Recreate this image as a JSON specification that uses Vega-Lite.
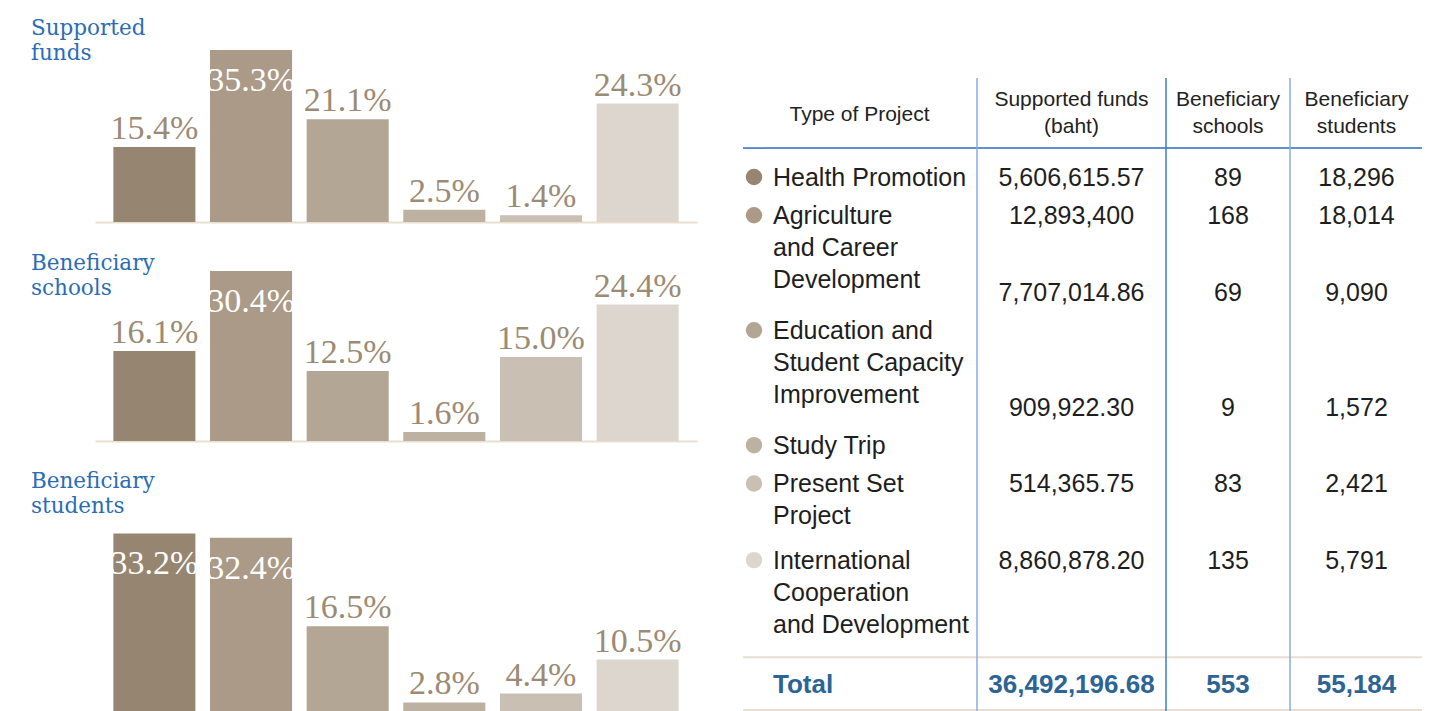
{
  "$schema": "https://vega.github.io/schema/vega-lite/v6.json",
  "background": "white",
  "padding": {"left": 31, "top": 17, "right": 14, "bottom": 0},
  "config": {"view": {"stroke": null}},
  "datasets": {
    "projects": [
      {"project": "Health Promotion", "label": "Health Promotion", "line": 0, "valueLine": 0, "funds": "5,606,615.57", "schools": "89", "students": "18,296", "shareFunds": 0.154, "shareSchools": 0.161, "shareStudents": 0.332},
      {"project": "Agriculture and Career Development", "label": "Agriculture\nand Career\nDevelopment", "line": 1, "valueLine": 1, "funds": "12,893,400", "schools": "168", "students": "18,014", "shareFunds": 0.353, "shareSchools": 0.304, "shareStudents": 0.324},
      {"project": "Education and Student Capacity Improvement", "label": "Education and\nStudent Capacity\nImprovement", "line": 4, "valueLine": 3, "funds": "7,707,014.86", "schools": "69", "students": "9,090", "shareFunds": 0.211, "shareSchools": 0.125, "shareStudents": 0.165},
      {"project": "Study Trip", "label": "Study Trip", "line": 7, "valueLine": 6, "funds": "909,922.30", "schools": "9", "students": "1,572", "shareFunds": 0.025, "shareSchools": 0.016, "shareStudents": 0.028},
      {"project": "Present Set Project", "label": "Present Set\nProject", "line": 8, "valueLine": 8, "funds": "514,365.75", "schools": "83", "students": "2,421", "shareFunds": 0.014, "shareSchools": 0.150, "shareStudents": 0.044},
      {"project": "International Cooperation and Development", "label": "International\nCooperation\nand Development", "line": 10, "valueLine": 10, "funds": "8,860,878.20", "schools": "135", "students": "5,791", "shareFunds": 0.243, "shareSchools": 0.244, "shareStudents": 0.105}
    ],
    "total": [
      {"label": "Total", "line": 13, "funds": "36,492,196.68", "schools": "553", "students": "55,184"}
    ]
  },
  "hconcat": [
    {
      "vconcat": [
        {
          "width": 602, "height": 172,
          "title": {"text": ["Supported", "funds"], "anchor": "start", "frame": "group", "dx": -64, "offset": -14, "lineHeight": 25, "font": "DejaVu Serif", "fontSize": 21.5, "fontWeight": "normal", "color": "#2b6cb5"},
          "data": {"name": "projects"},
          "encoding": {
            "x": {"field": "project", "type": "nominal", "axis": {"domain": true, "domainColor": "#eadfcf", "domainWidth": 2, "ticks": false, "labels": false, "title": null, "grid": false}, "scale": {"domain": ["Health Promotion", "Agriculture and Career Development", "Education and Student Capacity Improvement", "Study Trip", "Present Set Project", "International Cooperation and Development"], "paddingInner": 0.151, "paddingOuter": 0.19}},
            "y": {"field": "shareFunds", "type": "quantitative", "axis": null, "scale": {"nice": false}}
          },
          "layer": [
            {"mark": {"type": "bar"}, "encoding": {"color": {"field": "project", "type": "nominal", "legend": null, "scale": {"domain": ["Health Promotion", "Agriculture and Career Development", "Education and Student Capacity Improvement", "Study Trip", "Present Set Project", "International Cooperation and Development"], "range": ["#968570", "#aa9a87", "#b3a694", "#bdb2a2", "#c9bfb3", "#ddd6cf"]}}}},
            {"transform": [{"filter": "datum.shareFunds <= 0.3"}], "mark": {"type": "text", "font": "Liberation Serif", "fontSize": 34, "color": "#9c8b74", "baseline": "alphabetic", "dy": -8}, "encoding": {"text": {"field": "shareFunds", "format": ".1%"}}},
            {"transform": [{"filter": "datum.shareFunds > 0.3"}], "mark": {"type": "text", "font": "Liberation Serif", "fontSize": 34, "color": "#ffffff", "baseline": "alphabetic", "dy": 41}, "encoding": {"text": {"field": "shareFunds", "format": ".1%"}}}
          ]
        },
        {
          "width": 602, "height": 170,
          "title": {"text": ["Beneficiary", "schools"], "anchor": "start", "frame": "group", "dx": -64, "offset": -30, "lineHeight": 25, "font": "DejaVu Serif", "fontSize": 21.5, "fontWeight": "normal", "color": "#2b6cb5"},
          "data": {"name": "projects"},
          "encoding": {
            "x": {"field": "project", "type": "nominal", "axis": {"domain": true, "domainColor": "#eadfcf", "domainWidth": 2, "ticks": false, "labels": false, "title": null, "grid": false}, "scale": {"domain": ["Health Promotion", "Agriculture and Career Development", "Education and Student Capacity Improvement", "Study Trip", "Present Set Project", "International Cooperation and Development"], "paddingInner": 0.151, "paddingOuter": 0.19}},
            "y": {"field": "shareSchools", "type": "quantitative", "axis": null, "scale": {"nice": false}}
          },
          "layer": [
            {"mark": {"type": "bar"}, "encoding": {"color": {"field": "project", "type": "nominal", "legend": null, "scale": {"domain": ["Health Promotion", "Agriculture and Career Development", "Education and Student Capacity Improvement", "Study Trip", "Present Set Project", "International Cooperation and Development"], "range": ["#968570", "#aa9a87", "#b3a694", "#bdb2a2", "#c9bfb3", "#ddd6cf"]}}}},
            {"transform": [{"filter": "datum.shareSchools <= 0.3"}], "mark": {"type": "text", "font": "Liberation Serif", "fontSize": 34, "color": "#9c8b74", "baseline": "alphabetic", "dy": -8}, "encoding": {"text": {"field": "shareSchools", "format": ".1%"}}},
            {"transform": [{"filter": "datum.shareSchools > 0.3"}], "mark": {"type": "text", "font": "Liberation Serif", "fontSize": 34, "color": "#ffffff", "baseline": "alphabetic", "dy": 41}, "encoding": {"text": {"field": "shareSchools", "format": ".1%"}}}
          ]
        },
        {
          "width": 602, "height": 228,
          "title": {"text": ["Beneficiary", "students"], "anchor": "start", "frame": "group", "dx": -64, "offset": -27, "lineHeight": 25, "font": "DejaVu Serif", "fontSize": 21.5, "fontWeight": "normal", "color": "#2b6cb5"},
          "data": {"name": "projects"},
          "encoding": {
            "x": {"field": "project", "type": "nominal", "axis": {"domain": true, "domainColor": "#eadfcf", "domainWidth": 2, "ticks": false, "labels": false, "title": null, "grid": false}, "scale": {"domain": ["Health Promotion", "Agriculture and Career Development", "Education and Student Capacity Improvement", "Study Trip", "Present Set Project", "International Cooperation and Development"], "paddingInner": 0.151, "paddingOuter": 0.19}},
            "y": {"field": "shareStudents", "type": "quantitative", "axis": null, "scale": {"domain": [0, 0.41], "nice": false}}
          },
          "layer": [
            {"mark": {"type": "bar"}, "encoding": {"color": {"field": "project", "type": "nominal", "legend": null, "scale": {"domain": ["Health Promotion", "Agriculture and Career Development", "Education and Student Capacity Improvement", "Study Trip", "Present Set Project", "International Cooperation and Development"], "range": ["#968570", "#aa9a87", "#b3a694", "#bdb2a2", "#c9bfb3", "#ddd6cf"]}}}},
            {"transform": [{"filter": "datum.shareStudents <= 0.3"}], "mark": {"type": "text", "font": "Liberation Serif", "fontSize": 34, "color": "#9c8b74", "baseline": "alphabetic", "dy": -8}, "encoding": {"text": {"field": "shareStudents", "format": ".1%"}}},
            {"transform": [{"filter": "datum.shareStudents > 0.3"}], "mark": {"type": "text", "font": "Liberation Serif", "fontSize": 34, "color": "#ffffff", "baseline": "alphabetic", "dy": 41}, "encoding": {"text": {"field": "shareStudents", "format": ".1%"}}}
          ]
        }
      ],
      "spacing": 49,
      "bounds": "flush"
    },
    {
      "hconcat": [
        {
          "width": 22, "height": 662,
          "layer": [
            {"data": {"values": [{}]}, "mark": {"type": "rule", "color": "#2a6cc0", "strokeWidth": 1.5}, "encoding": {"y": {"datum": -0.99, "type": "quantitative", "axis": null, "scale": {"domain": [-3.55, 13.73], "reverse": true, "nice": false, "zero": false}}}},
            {"data": {"values": [{}]}, "mark": {"type": "rule", "color": "#e7ded2", "strokeWidth": 2}, "encoding": {"y": {"datum": 12.3, "type": "quantitative"}}},
            {"data": {"values": [{}]}, "mark": {"type": "rule", "color": "#e7ded2", "strokeWidth": 2}, "encoding": {"y": {"datum": 13.68, "type": "quantitative"}}},
            {"data": {"name": "projects"}, "mark": {"type": "point", "filled": true, "size": 270, "opacity": 1, "yOffset": -9}, "encoding": {"y": {"field": "line", "type": "quantitative"}, "color": {"field": "project", "type": "nominal", "legend": null, "scale": {"domain": ["Health Promotion", "Agriculture and Career Development", "Education and Student Capacity Improvement", "Study Trip", "Present Set Project", "International Cooperation and Development"], "range": ["#968570", "#aa9a87", "#b3a694", "#bdb2a2", "#c9bfb3", "#ddd6cf"]}}}}
          ]
        },
        {
          "width": 211, "height": 662,
          "layer": [
            {"data": {"values": [{}]}, "mark": {"type": "rule", "color": "#2a6cc0", "strokeWidth": 1.5}, "encoding": {"y": {"datum": -0.99, "type": "quantitative", "axis": null, "scale": {"domain": [-3.55, 13.73], "reverse": true, "nice": false, "zero": false}}}},
            {"data": {"values": [{}]}, "mark": {"type": "rule", "color": "#e7ded2", "strokeWidth": 2}, "encoding": {"y": {"datum": 12.3, "type": "quantitative"}}},
            {"data": {"values": [{}]}, "mark": {"type": "rule", "color": "#e7ded2", "strokeWidth": 2}, "encoding": {"y": {"datum": 13.68, "type": "quantitative"}}},
            {"data": {"values": [{}]}, "mark": {"type": "text", "text": "Type of Project", "font": "Liberation Sans", "fontSize": 21, "color": "#222222", "align": "center", "baseline": "alphabetic", "dx": -11}, "encoding": {"y": {"datum": -1.7, "type": "quantitative"}}},
            {"data": {"name": "projects"}, "mark": {"type": "text", "font": "Liberation Sans", "fontSize": 25, "color": "#1e1e1e", "align": "left", "baseline": "alphabetic", "lineBreak": "\n", "lineHeight": 32, "dx": 8}, "encoding": {"x": {"datum": "name", "type": "nominal", "axis": null, "scale": {"padding": 0, "align": 0}}, "y": {"field": "line", "type": "quantitative"}, "text": {"field": "label"}}},
            {"data": {"name": "total"}, "mark": {"type": "text", "font": "Liberation Sans", "fontSize": 26, "fontWeight": "bold", "color": "#2d6496", "align": "left", "baseline": "alphabetic", "dx": 8, "dy": 9}, "encoding": {"x": {"datum": "name", "type": "nominal", "axis": null}, "y": {"field": "line", "type": "quantitative"}, "text": {"field": "label"}}}
          ]
        },
        {
          "width": 2, "height": 662,
          "layer": [
            {"data": {"values": [{}]}, "mark": {"type": "rule", "color": "#2a6cc0", "strokeWidth": 1.5}, "encoding": {"y": {"datum": -0.99, "type": "quantitative", "axis": null, "scale": {"domain": [-3.55, 13.73], "reverse": true, "nice": false, "zero": false}}}},
            {"data": {"values": [{}]}, "mark": {"type": "rule", "color": "#e7ded2", "strokeWidth": 2}, "encoding": {"y": {"datum": 12.3, "type": "quantitative"}}},
            {"data": {"values": [{}]}, "mark": {"type": "rule", "color": "#e7ded2", "strokeWidth": 2}, "encoding": {"y": {"datum": 13.68, "type": "quantitative"}}},
            {"data": {"values": [{}]}, "mark": {"type": "rule", "color": "#8aaee0", "strokeWidth": 1.5}, "encoding": {"y": {"datum": -2.82, "type": "quantitative"}, "y2": {"datum": 13.73}}}
          ]
        },
        {
          "width": 187, "height": 662,
          "layer": [
            {"data": {"values": [{}]}, "mark": {"type": "rule", "color": "#2a6cc0", "strokeWidth": 1.5}, "encoding": {"y": {"datum": -0.99, "type": "quantitative", "axis": null, "scale": {"domain": [-3.55, 13.73], "reverse": true, "nice": false, "zero": false}}}},
            {"data": {"values": [{}]}, "mark": {"type": "rule", "color": "#e7ded2", "strokeWidth": 2}, "encoding": {"y": {"datum": 12.3, "type": "quantitative"}}},
            {"data": {"values": [{}]}, "mark": {"type": "rule", "color": "#e7ded2", "strokeWidth": 2}, "encoding": {"y": {"datum": 13.68, "type": "quantitative"}}},
            {"data": {"values": [{}]}, "mark": {"type": "text", "text": ["Supported funds", "(baht)"], "font": "Liberation Sans", "fontSize": 21, "lineHeight": 27, "color": "#222222", "align": "center", "baseline": "alphabetic"}, "encoding": {"y": {"datum": -2.1, "type": "quantitative"}}},
            {"data": {"name": "projects"}, "mark": {"type": "text", "font": "Liberation Sans", "fontSize": 25, "color": "#1e1e1e", "align": "center", "baseline": "alphabetic"}, "encoding": {"y": {"field": "valueLine", "type": "quantitative"}, "text": {"field": "funds"}}},
            {"data": {"name": "total"}, "mark": {"type": "text", "font": "Liberation Sans", "fontSize": 26, "fontWeight": "bold", "color": "#2d6496", "align": "center", "baseline": "alphabetic", "dy": 9}, "encoding": {"y": {"field": "line", "type": "quantitative"}, "text": {"field": "funds"}}}
          ]
        },
        {
          "width": 2, "height": 662,
          "layer": [
            {"data": {"values": [{}]}, "mark": {"type": "rule", "color": "#2a6cc0", "strokeWidth": 1.5}, "encoding": {"y": {"datum": -0.99, "type": "quantitative", "axis": null, "scale": {"domain": [-3.55, 13.73], "reverse": true, "nice": false, "zero": false}}}},
            {"data": {"values": [{}]}, "mark": {"type": "rule", "color": "#e7ded2", "strokeWidth": 2}, "encoding": {"y": {"datum": 12.3, "type": "quantitative"}}},
            {"data": {"values": [{}]}, "mark": {"type": "rule", "color": "#e7ded2", "strokeWidth": 2}, "encoding": {"y": {"datum": 13.68, "type": "quantitative"}}},
            {"data": {"values": [{}]}, "mark": {"type": "rule", "color": "#3f7bcb", "strokeWidth": 1.5}, "encoding": {"y": {"datum": -2.82, "type": "quantitative"}, "y2": {"datum": 13.73}}}
          ]
        },
        {
          "width": 122, "height": 662,
          "layer": [
            {"data": {"values": [{}]}, "mark": {"type": "rule", "color": "#2a6cc0", "strokeWidth": 1.5}, "encoding": {"y": {"datum": -0.99, "type": "quantitative", "axis": null, "scale": {"domain": [-3.55, 13.73], "reverse": true, "nice": false, "zero": false}}}},
            {"data": {"values": [{}]}, "mark": {"type": "rule", "color": "#e7ded2", "strokeWidth": 2}, "encoding": {"y": {"datum": 12.3, "type": "quantitative"}}},
            {"data": {"values": [{}]}, "mark": {"type": "rule", "color": "#e7ded2", "strokeWidth": 2}, "encoding": {"y": {"datum": 13.68, "type": "quantitative"}}},
            {"data": {"values": [{}]}, "mark": {"type": "text", "text": ["Beneficiary", "schools"], "font": "Liberation Sans", "fontSize": 21, "lineHeight": 27, "color": "#222222", "align": "center", "baseline": "alphabetic"}, "encoding": {"y": {"datum": -2.1, "type": "quantitative"}}},
            {"data": {"name": "projects"}, "mark": {"type": "text", "font": "Liberation Sans", "fontSize": 25, "color": "#1e1e1e", "align": "center", "baseline": "alphabetic"}, "encoding": {"y": {"field": "valueLine", "type": "quantitative"}, "text": {"field": "schools"}}},
            {"data": {"name": "total"}, "mark": {"type": "text", "font": "Liberation Sans", "fontSize": 26, "fontWeight": "bold", "color": "#2d6496", "align": "center", "baseline": "alphabetic", "dy": 9}, "encoding": {"y": {"field": "line", "type": "quantitative"}, "text": {"field": "schools"}}}
          ]
        },
        {
          "width": 2, "height": 662,
          "layer": [
            {"data": {"values": [{}]}, "mark": {"type": "rule", "color": "#2a6cc0", "strokeWidth": 1.5}, "encoding": {"y": {"datum": -0.99, "type": "quantitative", "axis": null, "scale": {"domain": [-3.55, 13.73], "reverse": true, "nice": false, "zero": false}}}},
            {"data": {"values": [{}]}, "mark": {"type": "rule", "color": "#e7ded2", "strokeWidth": 2}, "encoding": {"y": {"datum": 12.3, "type": "quantitative"}}},
            {"data": {"values": [{}]}, "mark": {"type": "rule", "color": "#e7ded2", "strokeWidth": 2}, "encoding": {"y": {"datum": 13.68, "type": "quantitative"}}},
            {"data": {"values": [{}]}, "mark": {"type": "rule", "color": "#8aaee0", "strokeWidth": 1.5}, "encoding": {"y": {"datum": -2.82, "type": "quantitative"}, "y2": {"datum": 13.73}}}
          ]
        },
        {
          "width": 131, "height": 662,
          "layer": [
            {"data": {"values": [{}]}, "mark": {"type": "rule", "color": "#2a6cc0", "strokeWidth": 1.5}, "encoding": {"y": {"datum": -0.99, "type": "quantitative", "axis": null, "scale": {"domain": [-3.55, 13.73], "reverse": true, "nice": false, "zero": false}}}},
            {"data": {"values": [{}]}, "mark": {"type": "rule", "color": "#e7ded2", "strokeWidth": 2}, "encoding": {"y": {"datum": 12.3, "type": "quantitative"}}},
            {"data": {"values": [{}]}, "mark": {"type": "rule", "color": "#e7ded2", "strokeWidth": 2}, "encoding": {"y": {"datum": 13.68, "type": "quantitative"}}},
            {"data": {"values": [{}]}, "mark": {"type": "text", "text": ["Beneficiary", "students"], "font": "Liberation Sans", "fontSize": 21, "lineHeight": 27, "color": "#222222", "align": "center", "baseline": "alphabetic"}, "encoding": {"y": {"datum": -2.1, "type": "quantitative"}}},
            {"data": {"name": "projects"}, "mark": {"type": "text", "font": "Liberation Sans", "fontSize": 25, "color": "#1e1e1e", "align": "center", "baseline": "alphabetic"}, "encoding": {"y": {"field": "valueLine", "type": "quantitative"}, "text": {"field": "students"}}},
            {"data": {"name": "total"}, "mark": {"type": "text", "font": "Liberation Sans", "fontSize": 26, "fontWeight": "bold", "color": "#2d6496", "align": "center", "baseline": "alphabetic", "dy": 9}, "encoding": {"y": {"field": "line", "type": "quantitative"}, "text": {"field": "students"}}}
          ]
        }
      ],
      "spacing": 0,
      "bounds": "flush"
    }
  ],
  "spacing": 648,
  "bounds": "flush"
}
